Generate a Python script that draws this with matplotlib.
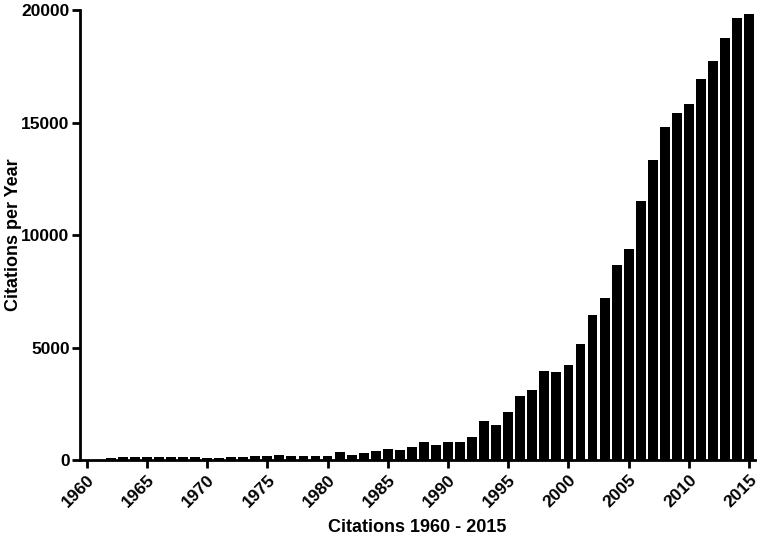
import matplotlib as mpl
mpl.use("Agg")
import matplotlib.pyplot as plt

# citations per year
years = list(range(1960, 2016))
citations = [20, 20, 80, 120, 120, 120, 115, 115, 115, 115,
             75, 80, 115, 115, 160, 160, 220, 160, 190, 190,
             160, 355, 210, 300, 390, 490, 430, 590, 785, 680,
             800, 800, 1010, 1750, 1555, 2120, 2830, 3110, 3940, 3900,
             4210, 5150, 6430, 7185, 8650, 9390, 11500, 13330, 14790, 15440,
             15810, 16950, 17720, 18770, 19670, 19850]
tick_years = [1960, 1965, 1970, 1975, 1980, 1985, 1990, 1995, 2000, 2005, 2010, 2015]
y_ticks = [0, 5000, 10000, 15000, 20000]

plt.rcParams['font.family'] = ['Liberation Sans', 'DejaVu Sans']
plt.rcParams['font.weight'] = 'bold'

fig = plt.figure(figsize=(7.62, 5.38), dpi=100)
ax = fig.add_axes([0.105, 0.145, 0.886, 0.836])

ax.bar(years, citations, width=0.82, color='black', edgecolor='none')

ax.set_xlim(1959.45, 2015.5)
ax.set_ylim(0, 20000)
ax.set_yticks(y_ticks)
ax.set_xticks(tick_years)
ax.set_xticklabels([str(y) for y in tick_years], rotation=45, ha='right',
                   rotation_mode='anchor', fontsize=12.5, fontweight='bold')
ax.set_yticklabels([str(v) for v in y_ticks], fontsize=12.5, fontweight='bold')

for side in ['top', 'right']:
    ax.spines[side].set_visible(False)
for side in ['left', 'bottom']:
    ax.spines[side].set_linewidth(2)
ax.tick_params(axis='both', width=2, length=6, direction='out')
ax.tick_params(axis='y', pad=1.5)
ax.tick_params(axis='x', pad=3)

ax.set_xlabel('Citations 1960 - 2015', fontsize=13, fontweight='bold', labelpad=6)
ax.set_ylabel('Citations per Year', fontsize=13, fontweight='bold')
ax.yaxis.set_label_coords(-0.086, 0.5)

fig.savefig('out.png', dpi=100)
